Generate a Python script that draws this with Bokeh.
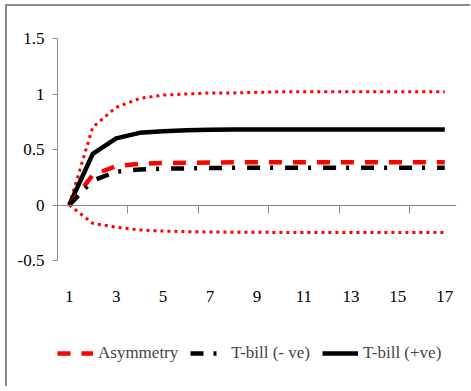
from bokeh.plotting import figure
from bokeh.layouts import column
from bokeh.models import FixedTicker, LinearAxis, Legend, LegendItem, Range1d, CustomJSTickFormatter
from bokeh.embed import file_html
from bokeh.resources import INLINE

periods = [1, 2, 3, 4, 5, 6, 7, 8, 9, 10, 11, 12, 13, 14, 15, 16, 17]
upper_band = [0, 0.70, 0.88, 0.96, 0.99, 1.00, 1.01, 1.01, 1.015, 1.02, 1.02, 1.02, 1.02, 1.02, 1.02, 1.02, 1.02]
lower_band = [0, -0.165, -0.20, -0.225, -0.235, -0.24, -0.243, -0.245, -0.246, -0.247, -0.247, -0.247, -0.247, -0.247, -0.247, -0.247, -0.247]
asymmetry = [0, 0.27, 0.35, 0.37, 0.378, 0.38, 0.383, 0.385, 0.385, 0.385, 0.385, 0.385, 0.385, 0.385, 0.385, 0.385, 0.385]
tbill_neg = [0, 0.22, 0.30, 0.32, 0.327, 0.33, 0.333, 0.335, 0.335, 0.335, 0.335, 0.335, 0.335, 0.335, 0.335, 0.335, 0.335]
tbill_pos = [0, 0.46, 0.60, 0.65, 0.665, 0.673, 0.677, 0.68, 0.68, 0.68, 0.68, 0.68, 0.68, 0.68, 0.68, 0.68, 0.68]

series_labels = ["Asymmetry", "T-bill (- ve)", "T-bill (+ve)"]
y_ticks = [-0.5, 0, 0.5, 1, 1.5]
y_labels = ["-0.5", "0", "0.5", "1", "1.5"]
x_label_ticks = [1, 3, 5, 7, 9, 11, 13, 15, 17]
x_mark_ticks = [0.5, 3.5, 6.5, 9.5, 12.5, 15.5]

FONT = "Liberation Serif"
FS = "17px"
GRAY = "#8c8c8c"
RED = "#ff0000"

p = figure(width=463, height=314, output_backend="svg", toolbar_location=None,
           x_range=Range1d(0.5, 17.5), y_range=Range1d(-0.5, 1.5),
           min_border_left=50, min_border_right=14, min_border_top=32, min_border_bottom=60)
p.outline_line_color = None
p.xgrid.visible = False
p.ygrid.visible = False

# y axis
p.yaxis.ticker = FixedTicker(ticks=y_ticks)
p.yaxis.major_label_overrides = {t: l for t, l in zip(y_ticks, y_labels)}
p.yaxis.minor_tick_line_color = None
p.yaxis.major_tick_in = 0
p.yaxis.major_tick_out = 5
p.yaxis.axis_line_color = GRAY
p.yaxis.major_tick_line_color = GRAY
p.yaxis.major_label_text_font = FONT
p.yaxis.major_label_text_font_size = FS
p.yaxis.major_label_text_color = "black"
p.yaxis.major_label_standoff = 8

# x axis labels at bottom
p.xaxis.ticker = FixedTicker(ticks=x_label_ticks)
p.xaxis.axis_line_color = None
p.xaxis.major_tick_line_color = None
p.xaxis.minor_tick_line_color = None
p.xaxis.major_label_text_font = FONT
p.xaxis.major_label_text_font_size = FS
p.xaxis.major_label_text_color = "black"
p.xaxis.major_label_standoff = 24

# x axis line at y=0 with tick marks (no labels)
zero_axis = LinearAxis(fixed_location=0, ticker=FixedTicker(ticks=x_mark_ticks),
                       formatter=CustomJSTickFormatter(code="return ''"),
                       axis_line_color=GRAY, major_tick_line_color=GRAY,
                       minor_tick_line_color=None, major_tick_in=8, major_tick_out=0,
                       major_label_standoff=0)
p.add_layout(zero_axis, "above")

p.line(periods, upper_band, line_color=RED, line_width=3, line_dash="3 4")
p.line(periods, lower_band, line_color=RED, line_width=3, line_dash="3 4")
p.line(periods, tbill_pos, line_color="black", line_width=4.5)
p.line(periods, asymmetry, line_color=RED, line_width=4.5, line_dash="13 11")
p.line(periods, tbill_neg, line_color="black", line_width=4.5, line_dash="13 10 3 12")

# legend strip (its series renderers sit outside its visible range; only the legend shows)
lg = figure(width=463, height=66, output_backend="svg", toolbar_location=None,
            x_range=Range1d(100, 101), y_range=Range1d(100, 101),
            x_axis_location=None, y_axis_location=None,
            min_border_left=0, min_border_right=0, min_border_top=0, min_border_bottom=0)
lg.outline_line_color = None
lg.xgrid.visible = False
lg.ygrid.visible = False
s_asym = lg.line(periods, asymmetry, line_color=RED, line_width=4.5, line_dash="13 11")
s_neg = lg.line(periods, tbill_neg, line_color="black", line_width=4.5, line_dash="13 10 3 12")
s_pos = lg.line(periods, tbill_pos, line_color="black", line_width=4.5)
legend = Legend(items=[LegendItem(label=series_labels[0], renderers=[s_asym]),
                       LegendItem(label=series_labels[1], renderers=[s_neg]),
                       LegendItem(label=series_labels[2], renderers=[s_pos])],
                location="center_left", orientation="horizontal",
                glyph_width=36, label_standoff=5, spacing=12, padding=0, margin=0,
                border_line_color=None, background_fill_alpha=0,
                label_text_font=FONT, label_text_font_size=FS)
lg.add_layout(legend, "center")

layout = column(p, lg, spacing=0)
layout.styles = {"margin-left": "5px", "margin-top": "4px",
                 "border-left": "2px solid #8c8c8c", "border-top": "2px solid #8c8c8c"}

open("out.html", "w").write(file_html(layout, INLINE))
